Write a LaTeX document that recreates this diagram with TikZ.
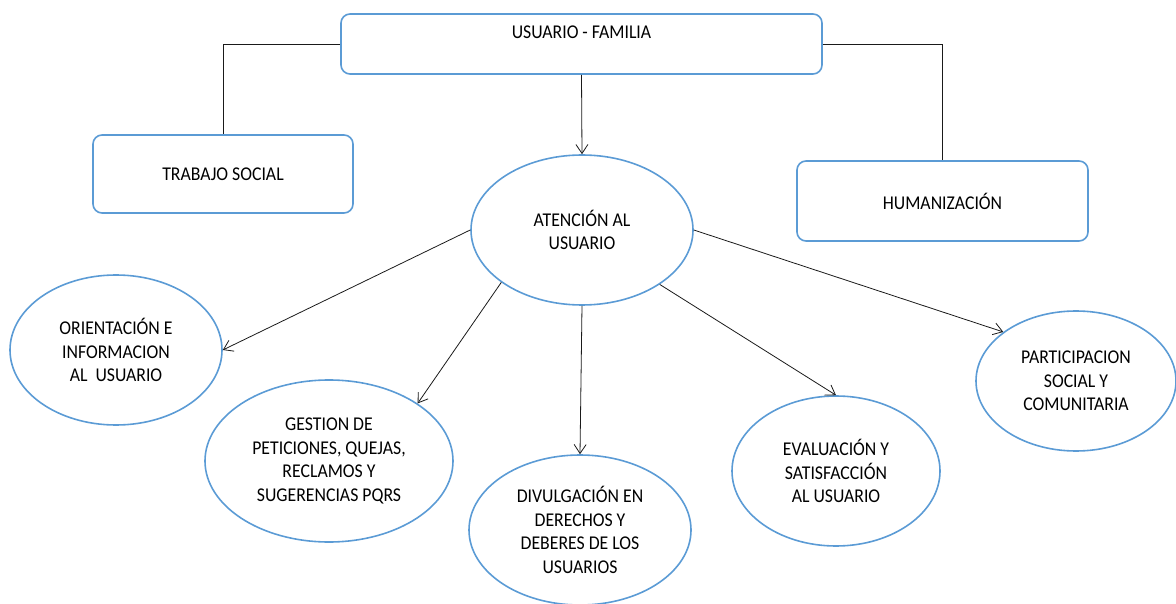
\documentclass[tikz,border=0pt]{standalone}
\usepackage{fontspec}
\setmainfont{Carlito}[FakeStretch=0.91]
\usepackage{tikz}
\usetikzlibrary{arrows.meta,shapes.geometric}
\definecolor{edge}{HTML}{5B9BD5}
\definecolor{ink}{HTML}{1A1A1A}
\tikzset{
  box/.style={draw=edge,line width=1.6pt,rounded corners=9pt,align=center,inner sep=0pt},
  oval/.style={ellipse,draw=edge,line width=1.6pt,align=center,inner sep=0pt},
  link/.style={draw=ink,line width=.8pt},
  flow/.style={-{Straight Barb[length=9pt,width=12pt]},draw=ink,line width=.8pt}
}

\begin{document}
\begin{tikzpicture}[x=1pt,y=-1pt,font=\fontsize{19.5}{23.5}\selectfont]
  \useasboundingbox (0,0) rectangle (1176,604);
  \node[box,minimum width=481pt,minimum height=60pt] (top) at (581.5,44) {USUARIO - FAMILIA\\ \mbox{}};
  \node[box,minimum width=260pt,minimum height=78pt] (trabajo) at (223,174) {TRABAJO SOCIAL};
  \node[box,minimum width=291pt,minimum height=80pt] (humaniz) at (942.5,201) {HUMANIZACIÓN};
  \node[oval,minimum width=222pt,minimum height=150pt] (atencion) at (582,230) {ATENCIÓN AL\\USUARIO};
  \node[oval,minimum width=212pt,minimum height=150pt] (orient) at (116,350) {ORIENTACIÓN E\\INFORMACION\\AL\ \ USUARIO};
  \node[oval,minimum width=248pt,minimum height=162pt] (gestion) at (329,461) {GESTION DE\\PETICIONES, QUEJAS,\\RECLAMOS Y\\SUGERENCIAS PQRS};
  \node[oval,minimum width=222pt,minimum height=150pt] (divulg) at (580,530) {DIVULGACIÓN EN\\DERECHOS Y\\DEBERES DE LOS\\USUARIOS};
  \node[oval,minimum width=208pt,minimum height=150pt] (evalua) at (836,471) {EVALUACIÓN Y\\SATISFACCIÓN\\AL USUARIO};
  \node[oval,minimum width=200pt,minimum height=140pt] (partic) at (1076,381) {PARTICIPACION\\SOCIAL Y\\COMUNITARIA};
  \draw[link] (top.west) -| (trabajo.north);
  \draw[link] (top.east) -| (humaniz.north);
  \draw[flow] (top.south) -- (atencion.north);
  \draw[flow] (atencion.west) -- (orient.east);
  \draw[flow] (atencion.213) -- (gestion.33);
  \draw[flow] (atencion.south) -- (divulg.north);
  \draw[flow] (atencion.-35) -- (evalua.north);
  \draw[flow] (atencion.east) -- (partic.146);
\end{tikzpicture}
\end{document}
